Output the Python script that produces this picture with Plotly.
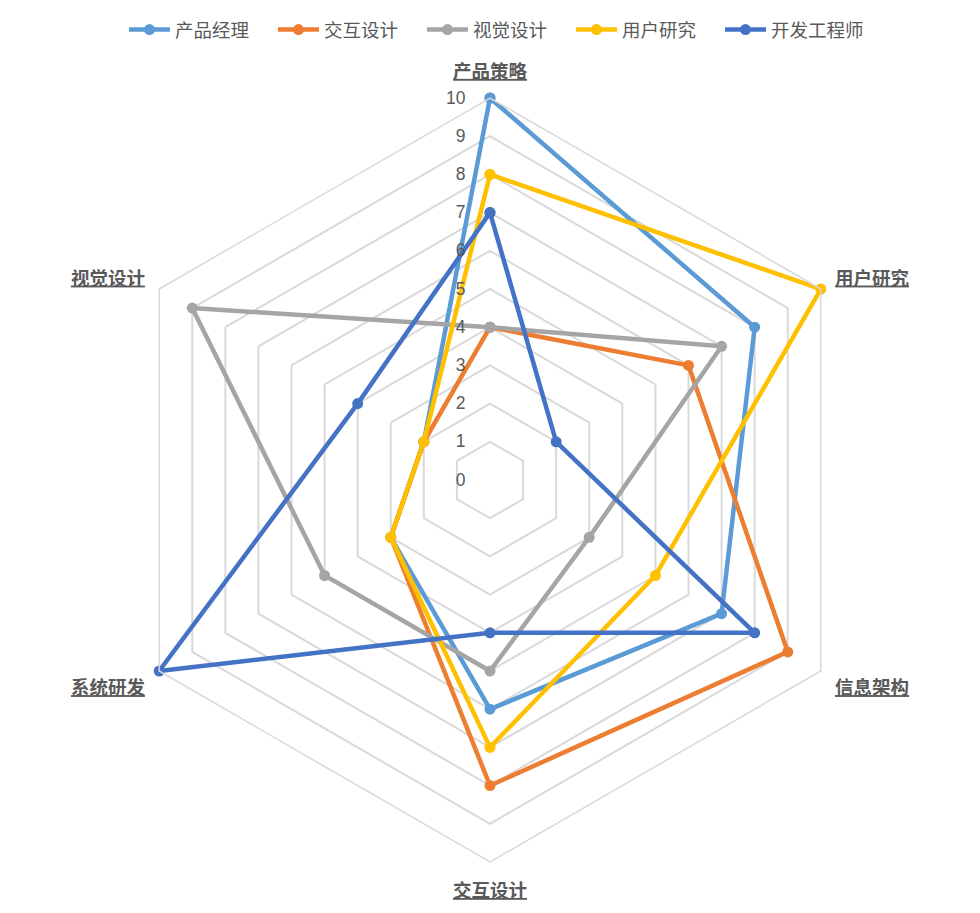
import plotly.graph_objects as go

categories = ["产品策略", "用户研究", "信息架构", "交互设计", "系统研发", "视觉设计"]
category_labels = ["<u>" + c + "</u>" for c in categories]

series_names = ["产品经理", "交互设计", "视觉设计", "用户研究", "开发工程师"]
pm = [10, 8, 7, 6, 3, 2]
ixd = [4, 6, 9, 8, 3, 2]
vis = [4, 7, 3, 5, 5, 9]
ux = [8, 10, 5, 7, 3, 2]
dev = [7, 2, 8, 4, 10, 4]
colors = ["#5B9BD5", "#ED7D31", "#A5A5A5", "#FFC000", "#4472C4"]

radial_ticks = list(range(0, 11))

FONT = "Liberation Sans, Arial, Noto Sans CJK SC, sans-serif"

fig = go.Figure()
for name, vals, col in zip(series_names, [pm, ixd, vis, ux, dev], colors):
    fig.add_trace(
        go.Scatterpolar(
            r=vals + vals[:1],
            theta=categories + categories[:1],
            mode="lines+markers",
            name=name,
            line=dict(color=col, width=4.5),
            marker=dict(color=col, size=11),
        )
    )

W, H = 980, 913
# page has an 8px body margin, so positions are shifted back by 8
cx, cy, R = 482, 472, 382

fig.update_layout(
    width=W,
    height=H,
    paper_bgcolor="white",
    plot_bgcolor="white",
    margin=dict(l=0, r=0, t=0, b=0),
    font=dict(family=FONT, color="#595959", size=16),
    legend=dict(
        orientation="h",
        x=116 / W,
        xanchor="left",
        y=1 - 22 / H,
        yanchor="middle",
        font=dict(size=18.5, color="#595959"),
        itemwidth=41,
        entrywidth=93,
        entrywidthmode="pixels",
    ),
    polar=dict(
        domain=dict(
            x=[(cx - R) / W, (cx + R) / W],
            y=[(H - cy - R) / H, (H - cy + R) / H],
        ),
        gridshape="linear",
        bgcolor="white",
        radialaxis=dict(
            range=[0, 10],
            tickvals=radial_ticks,
            angle=90,
            tickangle=90,
            side="counterclockwise",
            showline=False,
            showgrid=True,
            gridcolor="#D9D9D9",
            gridwidth=1.5,
            ticks="outside",
            ticklen=18,
            tickcolor="rgba(0,0,0,0)",
            tickfont=dict(size=17.5, color="#595959"),
        ),
        angularaxis=dict(
            direction="clockwise",
            rotation=90,
            showgrid=False,
            showline=True,
            linecolor="#D9D9D9",
            linewidth=1.5,
            ticks="outside",
            ticklen=12,
            tickcolor="rgba(0,0,0,0)",
            tickvals=categories,
            ticktext=category_labels,
            tickfont=dict(size=18.5, color="#595959", weight="bold",
                          family="Noto Sans CJK SC, sans-serif"),
        ),
    ),
)

fig.write_html("out.html")
